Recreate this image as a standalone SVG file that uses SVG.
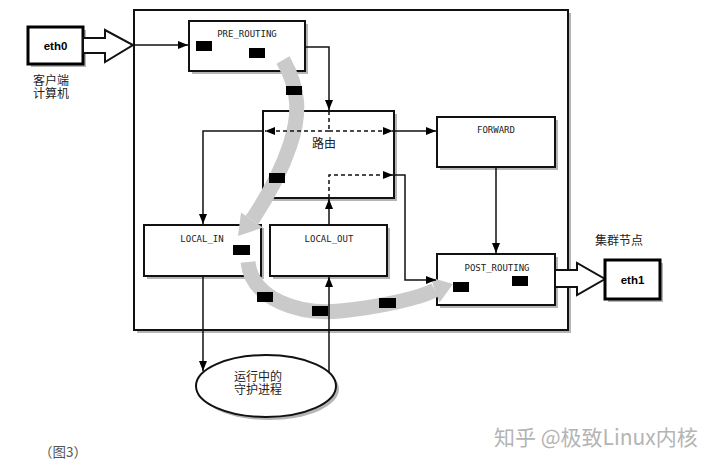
<svg xmlns="http://www.w3.org/2000/svg" width="720" height="467" viewBox="0 0 720 467">
<defs>
<marker id="ah" markerUnits="userSpaceOnUse" markerWidth="10" markerHeight="8" refX="10" refY="4" orient="auto"><path d="M0,0 L10,4 L0,8 z" fill="#000"/></marker>
</defs>
<style>
.box{fill:#fff;stroke:#111;stroke-width:2}
.eth{fill:#fff;stroke:#000;stroke-width:3}
.sh{fill:#b5b5b5}
.lbl{font-family:"DejaVu Sans Mono",monospace;font-size:9px;fill:#222;text-anchor:middle}
.cjk{font-family:"Noto Sans CJK SC",sans-serif;font-size:12px;fill:#222}
.ln{fill:none;stroke:#111;stroke-width:1.5}
.dash{fill:none;stroke:#111;stroke-width:1.5;stroke-dasharray:4 3}
.band{fill:none;stroke:#cacaca;stroke-width:15}
.bandh{fill:#cacaca}
.blk{fill:#000}
</style>
<rect width="720" height="467" fill="#fff"/>

<g id="outer">
<rect class="sh" x="137" y="13" width="434" height="320"/>
<rect class="box" x="134" y="10" width="434" height="320"/>
</g>

<g id="eth0">
<rect class="sh" x="31" y="30" width="55" height="37"/>
<rect class="eth" x="28" y="27" width="55" height="37"/>
<text x="55.5" y="50" font-family="Liberation Sans, sans-serif" font-weight="bold" font-size="11.5" text-anchor="middle">eth0</text>
<polygon points="83,38 105,38 105,30 133,45 105,62 105,53 83,53" fill="#fff" stroke="#111" stroke-width="2"/>
<text class="cjk" x="33" y="85">客户端</text>
<text class="cjk" x="33" y="98">计算机</text>
</g>

<g id="pre_routing">
<rect class="sh" x="192" y="24" width="116" height="50"/>
<rect class="box" x="189" y="21" width="116" height="50"/>
<text class="lbl" x="247" y="37">PRE_ROUTING</text>
</g>

<g id="routing">
<rect class="sh" x="266" y="114" width="131" height="87"/>
<rect class="box" x="263" y="111" width="131" height="87"/>
<text class="cjk" x="324" y="148" text-anchor="middle" font-size="12.5">路由</text>
</g>

<g id="forward">
<rect class="sh" x="440" y="120" width="118" height="50"/>
<rect class="box" x="437" y="117" width="118" height="50"/>
<text class="lbl" x="496" y="133">FORWARD</text>
</g>

<g id="local_in">
<rect class="sh" x="147" y="228" width="117" height="51"/>
<rect class="box" x="144" y="225" width="117" height="51"/>
<text class="lbl" x="202" y="242">LOCAL_IN</text>
</g>

<g id="local_out">
<rect class="sh" x="273" y="228" width="117" height="51"/>
<rect class="box" x="270" y="225" width="117" height="51"/>
<text class="lbl" x="329" y="242">LOCAL_OUT</text>
</g>

<g id="post_routing">
<rect class="sh" x="440" y="257" width="118" height="51"/>
<rect class="box" x="437" y="254" width="118" height="51"/>
<text class="lbl" x="497" y="271">POST_ROUTING</text>
</g>

<g id="eth1">
<polygon points="555,270 577,270 577,263 605,279 577,295 577,287 555,287" fill="#fff" stroke="#111" stroke-width="2"/>
<rect class="sh" x="608" y="263" width="55" height="39"/>
<rect class="eth" x="605" y="260" width="55" height="39"/>
<text x="632.5" y="284" font-family="Liberation Sans, sans-serif" font-weight="bold" font-size="11.5" text-anchor="middle">eth1</text>
<text class="cjk" x="595" y="245" font-size="12.5">集群节点</text>
</g>

<g id="daemon">
<ellipse cx="269" cy="389" rx="70" ry="31" fill="#b5b5b5"/>
<ellipse cx="266" cy="386" rx="70" ry="31" fill="#fff" stroke="#111" stroke-width="2"/>
<text class="cjk" x="258" y="381" text-anchor="middle" font-size="12.5">运行中的</text>
<text class="cjk" x="258" y="394" text-anchor="middle" font-size="12.5">守护进程</text>
</g>

<g id="bands">
<path class="band" d="M283,60 C300,90 300,115 290,145 S262,205 252,220"/>
<polygon class="bandh" points="263,227.5 241,212.5 238,236"/>
<path class="band" d="M248,262 C252,300 300,315 340,311 S420,298 435,290"/>
<polygon class="bandh" points="439.5,302.5 430.5,277.5 453,284"/>
</g>

<g id="markers">
<rect class="blk" x="196" y="41" width="16" height="10"/>
<rect class="blk" x="249" y="48" width="16" height="10"/>
<rect class="blk" x="286" y="86" width="16" height="9"/>
<rect class="blk" x="269" y="173" width="16" height="10"/>
<rect class="blk" x="233" y="245" width="17" height="10"/>
<rect class="blk" x="257" y="292" width="16" height="10"/>
<rect class="blk" x="312" y="306" width="16" height="10"/>
<rect class="blk" x="379" y="298" width="17" height="10"/>
<rect class="blk" x="453" y="282" width="16" height="10"/>
<rect class="blk" x="512" y="276" width="16" height="10"/>
</g>

<g id="connectors">
<path class="ln" d="M133,45 H188" marker-end="url(#ah)"/>
<path class="ln" d="M305,47 H329 V110" marker-end="url(#ah)"/>
<path class="dash" d="M329,111 V131"/>
<path class="dash" d="M329,131 H265" marker-end="url(#ah)"/>
<path class="dash" d="M329,131 H393" marker-end="url(#ah)"/>
<path class="ln" d="M263,131 H203 V224" marker-end="url(#ah)"/>
<path class="ln" d="M394,131 H436" marker-end="url(#ah)"/>
<path class="ln" d="M496,167 V253" marker-end="url(#ah)"/>
<path class="ln" d="M203,276 V371" marker-end="url(#ah)"/>
<path class="ln" d="M329,372 V277" marker-end="url(#ah)"/>
<path class="ln" d="M329,225 V199" marker-end="url(#ah)"/>
<path class="dash" d="M329,198 V175 H393" marker-end="url(#ah)"/>
<path class="ln" d="M394,175 H405 V280 H436" marker-end="url(#ah)"/>
</g>

<text x="39" y="457" font-family="Noto Sans CJK SC, sans-serif" font-size="13.5" fill="#555">（图3）</text>
<text x="494" y="445" font-family="Noto Sans CJK SC, sans-serif" font-size="21" fill="#b4b4b4">知乎 @极致Linux内核</text>
</svg>
